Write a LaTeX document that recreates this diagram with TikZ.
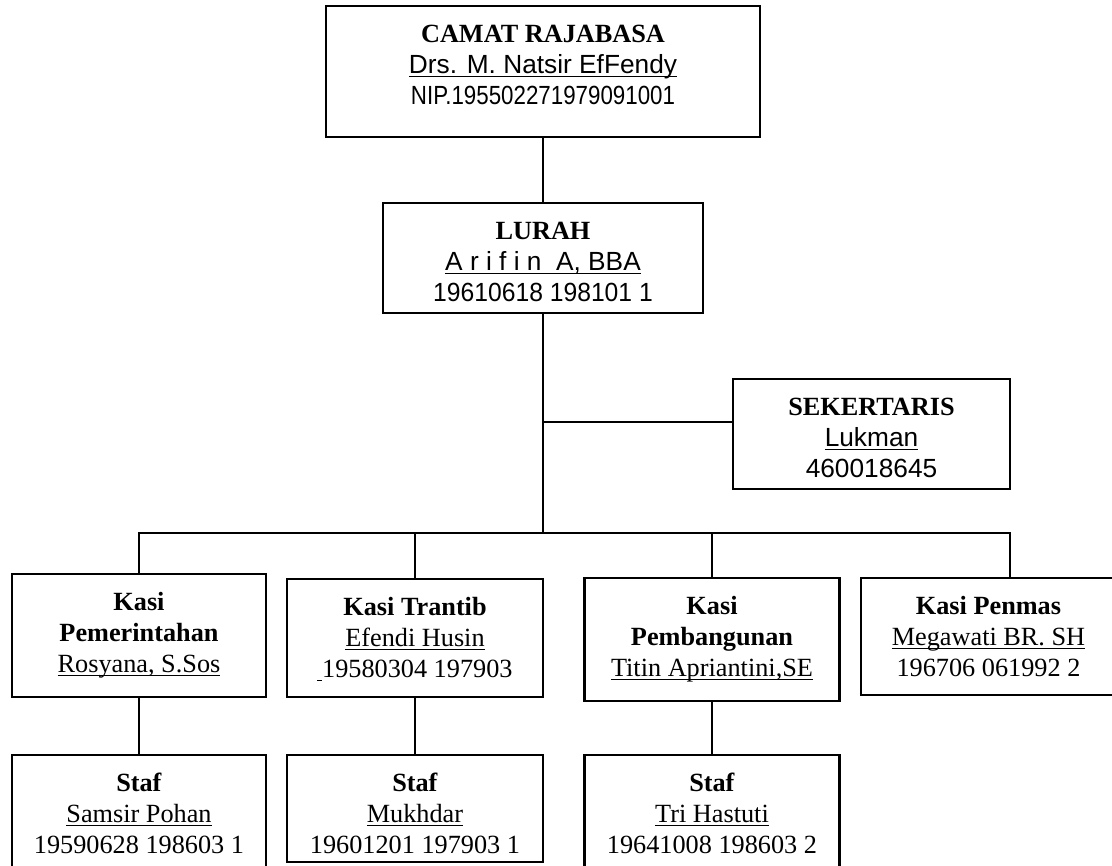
\documentclass[tikz,border=0pt]{standalone}
\usepackage{fontspec}
\setmainfont{Liberation Serif}
\setsansfont{Liberation Sans}
\usepackage{graphicx}

\newsavebox{\namebox}
\newcommand{\nameline}[1]{\sbox{\namebox}{#1}\rlap{\rule[-3pt]{\wd\namebox}{1.1pt}}\usebox{\namebox}}

\begin{document}
\begin{tikzpicture}[x=0.75pt, y=-0.75pt,
    unit/.style={draw, rectangle, line width=1.6pt, inner sep=0pt},
    info/.style={anchor=north, align=center, inner sep=0pt, yshift=-11.5pt, font=\fontsize{19.7pt}{23.2pt}\selectfont},
    link/.style={line width=1.2pt}]
    \useasboundingbox (0,0) rectangle (1112,865);
    \clip (0,0) rectangle (1112,865);

    % Camat
    \node[unit, minimum width=325.5pt, minimum height=98.25pt] (camat) at (543,71.5) {};
    \node[info] (camat-t) at (camat.north) {\textbf{\strut CAMAT RAJABASA}\\ \textsf{\nameline{Drs. M. Natsir EfFendy}}\\ \textsf{\scalebox{0.85}[1]{NIP.195502271979091001}}};

    % Lurah
    \node[unit, minimum width=240pt, minimum height=82.5pt] (lurah) at (543,258) {};
    \node[info] (lurah-t) at (lurah.north) {\textbf{\strut LURAH}\\ \textsf{\nameline{A r i f i n\ \ A, BBA}}\\ \textsf{\scalebox{0.94}[1]{19610618 198101 1}}};

    % Sekertaris
    \node[unit, minimum width=207.75pt, minimum height=82.5pt] (sekertaris) at (871.5,434) {};
    \node[info] (sekertaris-t) at (sekertaris.north) {\textbf{\strut SEKERTARIS}\\ \textsf{\nameline{Lukman}}\\ \textsf{460018645}};

    % Kasi
    \node[unit, minimum width=190pt, minimum height=92.25pt] (kasi1) at (139,635.5) {};
    \node[info] (kasi1-t) at (kasi1.north) {\textbf{\strut Kasi}\\ \textbf{Pemerintahan}\\ \nameline{Rosyana, S.Sos}};
    \node[unit, minimum width=192pt, minimum height=88.5pt] (kasi2) at (415,638) {};
    \node[info] (kasi2-t) at (kasi2.north) {\textbf{\strut Kasi Trantib}\\ \nameline{Efendi Husin}\\ \nameline{\hspace{3.5pt}}19580304 197903};
    \node[unit, minimum width=191.25pt, minimum height=92.25pt] (kasi3) at (712,639.5) {};
    \node[info] (kasi3-t) at (kasi3.north) {\textbf{\strut Kasi}\\ \textbf{Pembangunan}\\ \nameline{Titin Apriantini,SE}};
    \node[unit, minimum width=191.25pt, minimum height=87.75pt] (kasi4) at (988.5,636.5) {};
    \node[info] (kasi4-t) at (kasi4.north) {\textbf{\strut Kasi Penmas}\\ \nameline{Megawati BR. SH}\\ 196706 061992 2};

    % Staf
    \node[unit, minimum width=190pt, minimum height=97.5pt] (staf1) at (139,820) {};
    \node[info] (staf1-t) at (staf1.north) {\textbf{\strut Staf}\\ \nameline{Samsir Pohan}\\ 19590628 198603 1};
    \node[unit, minimum width=192pt, minimum height=80.25pt] (staf2) at (415,808.5) {};
    \node[info] (staf2-t) at (staf2.north) {\textbf{\strut Staf}\\ \nameline{Mukhdar}\\ 19601201 197903 1};
    \node[unit, minimum width=191.25pt, minimum height=97.5pt] (staf3) at (712,820) {};
    \node[info] (staf3-t) at (staf3.north) {\textbf{\strut Staf}\\ \nameline{Tri Hastuti}\\ 19641008 198603 2};

    % Lines
    \coordinate (hub) at (543,533);
    \coordinate (sek-tap) at ([yshift=9pt]sekertaris.west);
    \coordinate (penmas-tap) at ([xshift=16pt]kasi4.north);
    \draw[link] (camat) -- (lurah);
    \draw[link] (lurah) -- (hub);
    \draw[link] (lurah.south |- sek-tap) -- (sek-tap);
    \draw[link] (kasi1.north) |- (penmas-tap |- hub) -- (penmas-tap);
    \foreach \k in {kasi2, kasi3}
        \draw[link] (\k.north) -- (\k.north |- hub);
    \foreach \k/\s in {kasi1/staf1, kasi2/staf2, kasi3/staf3}
        \draw[link] (\k) -- (\s);
\end{tikzpicture}
\end{document}
